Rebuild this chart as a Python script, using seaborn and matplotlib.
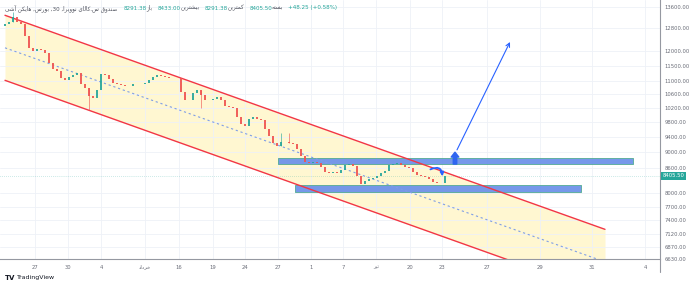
import re
import unicodedata
import matplotlib
matplotlib.use("Agg")
import matplotlib.pyplot as plt
import seaborn as sns
from matplotlib.ticker import FixedLocator, FixedFormatter, NullLocator

# ---- data ----
closes = [12957, 13032, 13218, 13032, 12957, 12521, 12101, 11998, 12066, 12032,
          11929, 11595, 11399, 11333, 11110, 11046, 11142, 11205, 11269, 10921,
          10797, 10554, 10494, 10736, 11237, 11205, 11078, 10952, 10921, 10890,
          10859, 10859, 10921, 10921, 10921, 10952, 11046, 11142, 11205, 11173,
          11142, 11110, 11110, 11110, 10675, 10434, 10434, 10645, 10736, 10585,
          10434, 10434, 10464, 10524, 10434, 10257, 10229, 10199, 9942, 9745,
          9690, 9885, 9942, 9885, 9857, 9607, 9418, 9232, 9153, 9258,
          9258, 9232, 9205, 9074, 8896, 8745, 8720, 8745, 8720, 8621,
          8499, 8475, 8499, 8475, 8548, 8671, 8696, 8646, 8403, 8213,
          8284, 8331, 8355, 8403, 8475, 8524, 8671, 8696, 8720, 8671,
          8621, 8597, 8499, 8427, 8403, 8380, 8331, 8260, 8237, 8237, 8405.5]
first_open = 12900
wick_high = {2: 13408, 69: 9498, 71: 9498}
wick_low = {21: 10142, 49: 10199}
last_close = 8405.5

channel_x = [1.25, 151.25]
channel_upper = [13282, 7215]
channel_lower = [11034, 5993]
channel_mid = [12106, 6576]

zone_hi = {"x": [69.5, 158.25], "lo": 8684, "hi": 8846}
zone_lo = {"x": [73.75, 145.25], "lo": 8017, "hi": 8179}

target_x = [114.25, 127.5]
target_y = [9050, 12309]

price_ticks = [13600, 12800, 12000, 11500, 11000, 10600, 10200, 9800, 9400,
               9000, 8600, 8000, 7700, 7400, 7120, 6870, 6630]
date_pos = [8.75, 17, 25.25, 36.25, 44.75, 53.25, 61.25, 69.5, 77.75, 85.75,
            94, 102.5, 110.5, 121.75, 135, 148, 161.25]
date_labels = ['27', '30', '4', 'خرداد', '16', '19', '24', '27', '1', '7',
               'تیر', '20', '23', '27', '29', '31', '4']

title = 'صندوق س.کالای نوویرا, 30, بورس, هایکن آشی'
ohlc_items = [('باز', '8291.38'), ('بیشترین', '8433.00'),
              ('کمترین', '8291.38'), ('بسته', '8405.50')]
change_txt = '+48.25 (+0.58%)'

# ---- minimal Persian shaping for matplotlib ----
FORMS = {}
for cp in range(0xFB50, 0xFEFF):
    d = unicodedata.decomposition(chr(cp))
    if d.startswith('<'):
        parts = d.split()
        if len(parts) == 2 and parts[0] in ('<isolated>', '<final>', '<initial>', '<medial>'):
            FORMS.setdefault(chr(int(parts[1], 16)), {}).setdefault(parts[0], chr(cp))
RIGHT_ONLY = set('اآأإدذرزژوؤة')


def shape(word):
    out = []
    for i, c in enumerate(word):
        f = FORMS.get(c)
        if not f:
            out.append(c)
            continue
        prev = i > 0 and word[i - 1] in FORMS and word[i - 1] not in RIGHT_ONLY
        nxt = i < len(word) - 1 and word[i + 1] in FORMS and c not in RIGHT_ONLY
        form = '<medial>' if prev and nxt else '<final>' if prev else '<initial>' if nxt else '<isolated>'
        out.append(f.get(form, f.get('<isolated>', c)))
    return ''.join(out)


def fa(s):
    parts = re.split(r'(\d+(?:\.\d+)?)', shape(s))
    parts = [p if re.fullmatch(r'\d+(?:\.\d+)?', p) else p[::-1] for p in parts]
    return ''.join(parts[::-1])


# ---- plot ----
sns.set_theme(style="white")
plt.rcParams['font.family'] = ['DejaVu Sans']

W, H = 690, 286
fig = plt.figure(figsize=(W / 100, H / 100), dpi=100)
ax = fig.add_axes([0, 27 / H, 660 / W, 259 / H])
ax.set_yscale('log')

up, down = '#26a69a', '#ef5350'
opens = [first_open] + closes[:-1]
xs = [1.25 + i for i in range(len(closes))]
for i, (x, o, c) in enumerate(zip(xs, opens, closes)):
    col = up if c >= o else down
    if i in wick_high or i in wick_low:
        ax.vlines(x, wick_low.get(i, min(o, c)), wick_high.get(i, max(o, c)),
                  color=col, lw=0.6, alpha=0.7, zorder=4)
    ax.vlines(x, min(o, c), max(o, c), color=col, lw=1.3, zorder=5)

# channel
ax.fill_between(channel_x, channel_lower, channel_upper, color='#fff7d1', zorder=0, lw=0)
sns.lineplot(x=channel_x, y=channel_upper, ax=ax, color='#f23645', lw=1.0, zorder=3)
sns.lineplot(x=channel_x, y=channel_lower, ax=ax, color='#f23645', lw=1.0, zorder=3)
sns.lineplot(x=channel_x, y=channel_mid, ax=ax, color='#7f9ee6', lw=0.8,
             linestyle=(0, (2, 2.5)), zorder=3)

# zones
for z in (zone_hi, zone_lo):
    ax.fill_between(z["x"], [z["lo"]] * 2, [z["hi"]] * 2, facecolor='#6a8fe9',
                    edgecolor='#4aa88c', lw=0.6, alpha=0.92, zorder=2)

# target arrow
ax.annotate('', xy=(target_x[1], target_y[1]), xytext=(target_x[0], target_y[0]),
            arrowprops=dict(arrowstyle='->', color='#2962ff', lw=0.8,
                            shrinkA=0, shrinkB=0, mutation_scale=7), zorder=6)
# up block arrow
ax.annotate('', xy=(113.75, 8990), xytext=(113.75, 8690),
            arrowprops=dict(arrowstyle='simple,head_width=1.1,head_length=0.7,tail_width=0.5',
                            color='#2f66f0', shrinkA=0, shrinkB=0, mutation_scale=5), zorder=6)
# curved arrow
ax.annotate('', xy=(110.6, 8390), xytext=(107.6, 8560),
            arrowprops=dict(arrowstyle='-|>', color='#2962ff', lw=1.3,
                            connectionstyle='arc3,rad=-0.7', shrinkA=0, shrinkB=0,
                            mutation_scale=5), zorder=6)

# last price line + label
ax.axhline(last_close, color=up, lw=0.4, ls=(0, (1, 2.5)), alpha=0.7, zorder=1)
ax.text(1.004, last_close, '8405.50', transform=ax.get_yaxis_transform(),
        ha='left', va='center', fontsize=3.8, color='white', zorder=10,
        bbox=dict(boxstyle='square,pad=0.3', fc=up, ec='none'))

# axes
ax.set_xlim(0, 165)
ax.set_ylim(6630, 13874)
ax.yaxis.tick_right()
ax.yaxis.set_major_locator(FixedLocator(price_ticks))
ax.yaxis.set_major_formatter(FixedFormatter([f'{p:.2f}' for p in price_ticks]))
ax.yaxis.set_minor_locator(NullLocator())
ax.xaxis.set_major_locator(FixedLocator(date_pos))
ax.xaxis.set_major_formatter(FixedFormatter([fa(s) for s in date_labels]))
ax.tick_params(axis='y', length=0, pad=3.5, labelsize=3.8, labelcolor='#6a6d78')
ax.tick_params(axis='x', length=0, pad=4, labelsize=3.8, labelcolor='#6a6d78')
ax.grid(True, color='#eef1f7', lw=0.6)
for s in ('left', 'top'):
    ax.spines[s].set_visible(False)
for s in ('right', 'bottom'):
    ax.spines[s].set_color('#9598a1')
    ax.spines[s].set_linewidth(0.8)
fig.add_artist(plt.Line2D([660 / W, 660 / W], [1 - 272 / H, 27 / H],
                          color='#9598a1', lw=0.8))

# header legend
fig.canvas.draw()
r = fig.canvas.get_renderer()
hx, hy = 5 / W, 1 - 8 / H


def put(s, color, gap):
    global hx
    t = fig.text(hx, hy, s, fontsize=4.1, color=color, ha='left', va='center')
    hx += (t.get_window_extent(r).width + gap) / W


put(fa(title), '#50535e', 6)
for lab, val in ohlc_items:
    put(val, up, 0)
    put(fa(lab), '#50535e', 5)
put(change_txt, up, 0)

# logo
fig.text(5 / W, 1 - 278 / H, 'TV', fontsize=5, fontweight='bold', color='#131722', va='center')
fig.text(17 / W, 1 - 278 / H, 'TradingView', fontsize=4.5, color='#131722', va='center')

fig.savefig('out.png', dpi=100, facecolor='white')
